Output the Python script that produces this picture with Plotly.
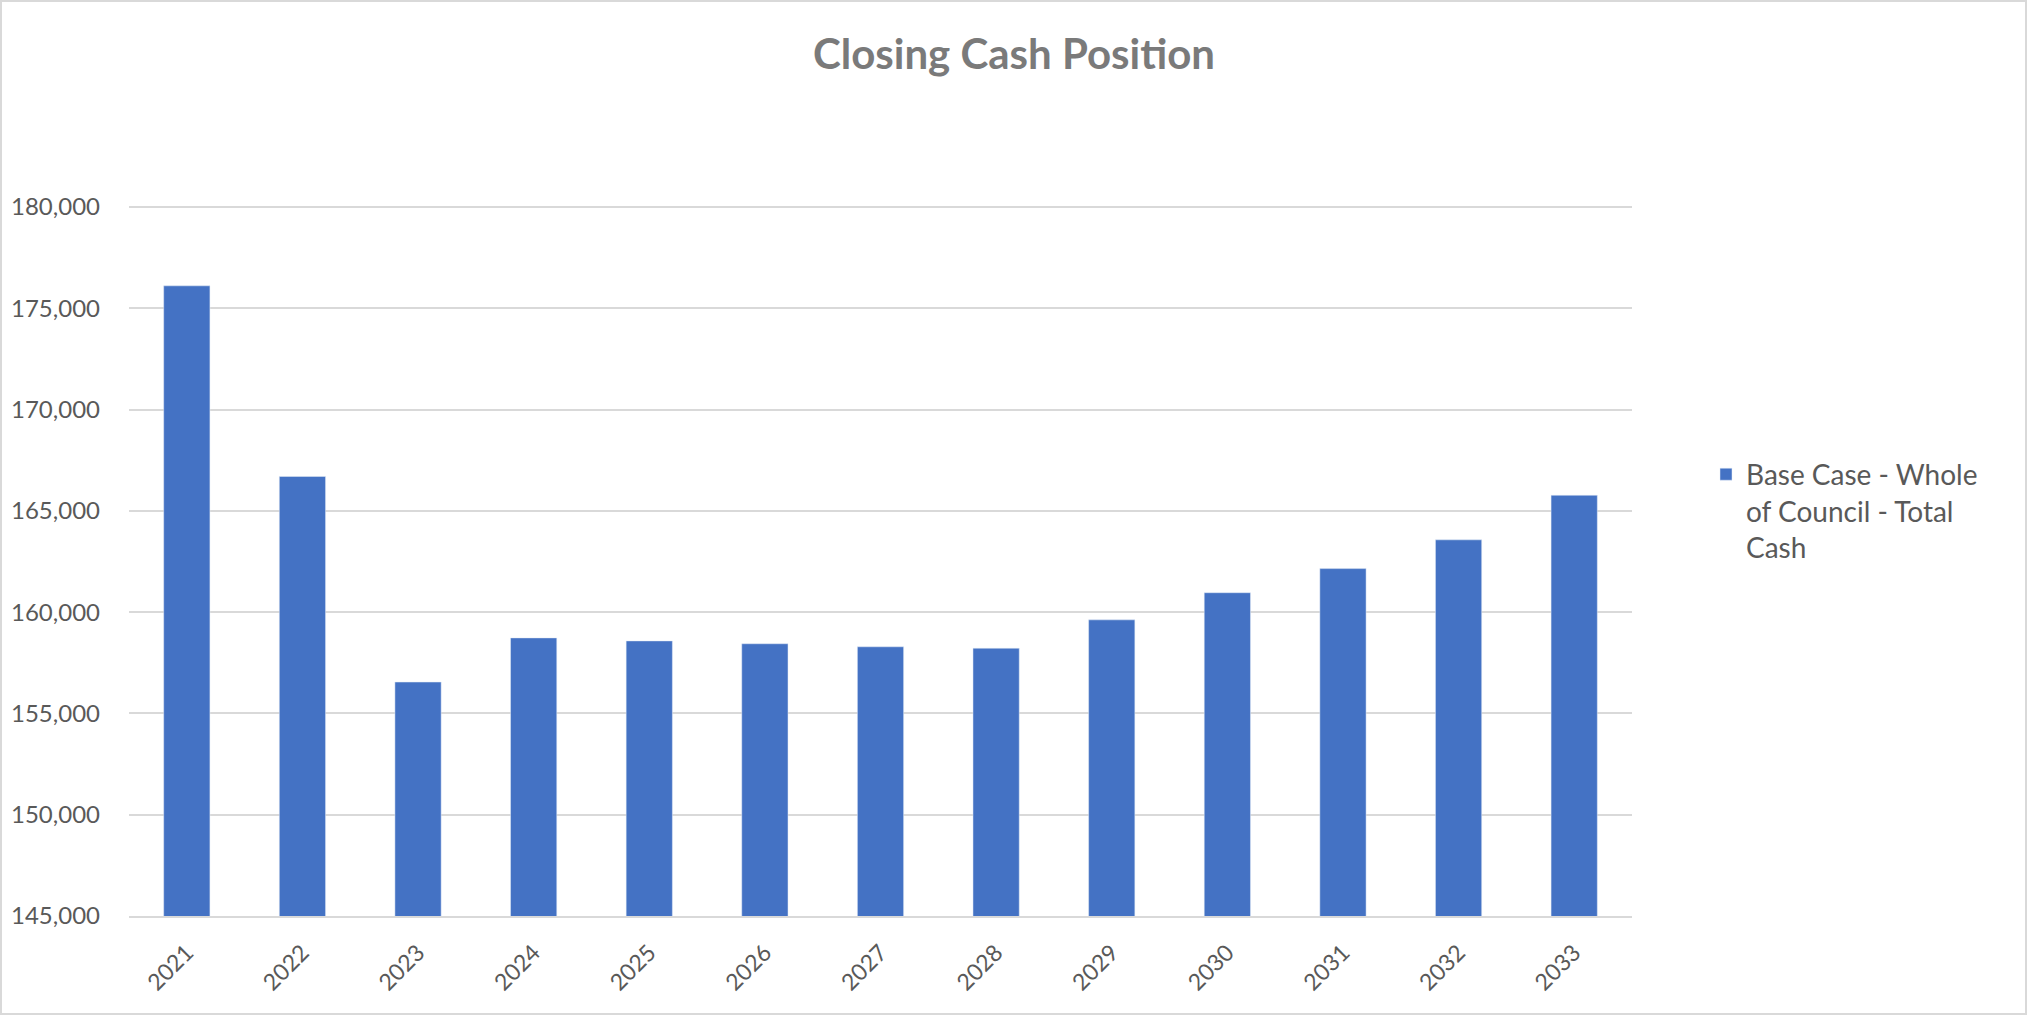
import plotly.graph_objects as go

years = ["2021", "2022", "2023", "2024", "2025", "2026", "2027", "2028", "2029", "2030", "2031", "2032", "2033"]
cash = [176110, 166700, 156550, 158730, 158580, 158440, 158290, 158220, 159620, 160960, 162150, 163570, 165770]
series_name = "Base Case - Whole<br>of Council - Total<br>Cash"
y_ticks = [145000, 150000, 155000, 160000, 165000, 170000, 175000, 180000]

W, H = 2028, 1016
L, R, T, B = 129, 396, 205, 100
pw, ph = W - L - R, H - T - B

fig = go.Figure()
fig.add_trace(go.Bar(x=years, y=cash, name=series_name, marker_color="#4472C4",
                     showlegend=True))

fig.update_layout(
    width=W, height=H,
    margin=dict(l=L, r=R, t=T, b=B, autoexpand=False),
    paper_bgcolor="white", plot_bgcolor="white",
    bargap=0.6,
    font=dict(family="Lato, 'Open Sans', sans-serif", color="#595959", size=23),
    title=dict(text="<b>Closing Cash Position</b>", x=0.5, xref="container", xanchor="center",
               y=1 - 54 / H, yanchor="middle",
               font=dict(size=42, color="#7a7a7a", family="Lato, 'Open Sans', sans-serif")),
    showlegend=True,
    legend=dict(x=(1706 - L) / pw, xanchor="left", y=(H - B - 511) / ph, yanchor="middle",
                valign="top", font=dict(size=28, color="#595959"), itemwidth=30),
    xaxis=dict(type="category", tickangle=-45, showline=True, linecolor="#d9d9d9", linewidth=2,
               showgrid=False, ticks="", ticklabelstandoff=12,
               tickfont=dict(size=23, color="#595959")),
    yaxis=dict(range=[145000, 180100], tickvals=y_ticks, tickformat=",", showgrid=True,
               gridcolor="#d9d9d9", gridwidth=2, zeroline=False, showline=False,
               ticks="", ticklabelstandoff=28, tickfont=dict(size=24, color="#595959")),
)

fig.add_shape(type="rect", xref="paper", yref="paper",
              x0=(1 - L) / pw, x1=(W - 2 - L) / pw,
              y0=(H - B - (H - 2)) / ph, y1=(H - B - 1) / ph,
              line=dict(color="#d9d9d9", width=2), fillcolor="rgba(0,0,0,0)", layer="below")

fig.write_html("out.html", config={"displayModeBar": False},
               post_script="document.body.style.margin='0px';")
